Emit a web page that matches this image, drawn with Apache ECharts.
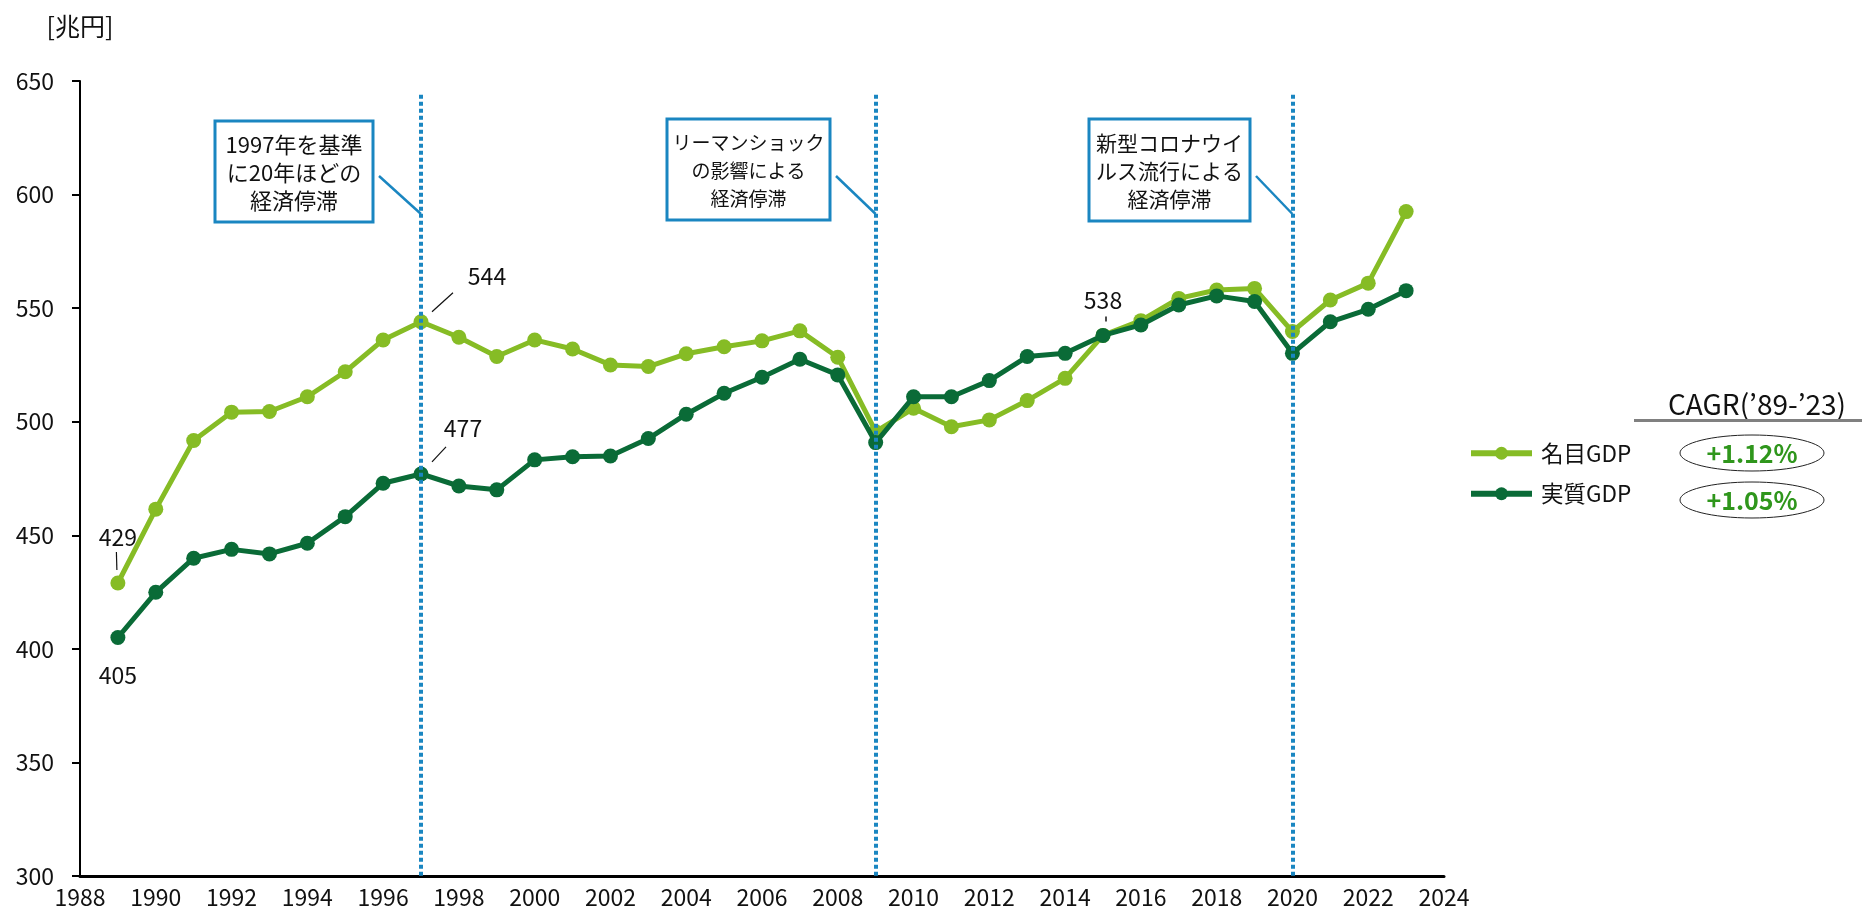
<!DOCTYPE html>
<html>
<head>
<meta charset="utf-8">
<script src="https://cdn.jsdelivr.net/npm/echarts@6/dist/echarts.min.js"></script>
<style>
html,body{margin:0;padding:0;background:#fff}
#chart{width:1862px;height:913px}
</style>
</head>
<body>
<div id="chart"></div>
<script>
// 年次
var years = [1989,1990,1991,1992,1993,1994,1995,1996,1997,1998,1999,2000,2001,2002,2003,2004,2005,2006,
  2007,2008,2009,2010,2011,2012,2013,2014,2015,2016,2017,2018,2019,2020,2021,2022,2023];
// 名目GDP [兆円]
var nominalGdp = [429,461.5,491.7,504.2,504.5,511,522,536,544,537.2,528.7,536,532,525,524.3,529.9,533,535.6,
  540,528.4,495.6,505.9,497.8,500.8,509.3,519.1,538,544.5,554.3,558,558.7,539.7,553.6,561,592.5];
// 実質GDP [兆円]
var realGdp = [405,424.9,439.9,443.8,441.8,446.5,458.2,472.9,477,471.7,470,483.2,484.6,484.9,492.6,503.3,512.5,519.6,
  527.5,520.6,490.8,511,511,518.1,528.7,530.1,538,542.6,551.4,555.4,552.9,530.1,544,549.5,557.7];
var seriesNames = ['名目GDP', '実質GDP'];
var cagrTexts = ['+1.12%', '+1.05%'];
var eventYears = [1997, 2009, 2020];
var eventTexts = ['1997年を基準\nに20年ほどの\n経済停滞', 'リーマンショック\nの影響による\n経済停滞', '新型コロナウイ\nルス流行による\n経済停滞'];
var yTicks = {min: 300, max: 650, interval: 50};
var xTicks = {min: 1988, max: 2024, interval: 2};

var FONT = '"Noto Sans CJK JP", "Noto Sans", sans-serif';
var LIGHT = '#86bc25';
var DARK = '#0a6b37';
var BLUE = '#1a86c1';

// 数値ラベルを付ける点
var labelled = {
  nominal: {1989: {position: 'top', distance: 27}, 1997: {position: 'top', distance: 5, offset: [66, -22]}, 2015: {position: 'top', distance: 16}},
  real: {1989: {position: 'bottom', distance: 19}, 1997: {position: 'top', distance: 5, offset: [42, -22]}}
};

function buildData(values, marks) {
  return years.map(function (y, i) {
    var item = {value: [y, values[i]]};
    if (marks[y]) {
      item.label = Object.assign({show: true, formatter: function (p) { return Math.round(p.value[1]); },
        color: '#111', fontSize: 23, fontFamily: FONT}, marks[y]);
    }
    return item;
  });
}

var myChart = echarts.init(document.getElementById('chart'));

var option = {
  animation: false,
  textStyle: {fontFamily: FONT},
  grid: {left: 80, right: 418, top: 81, bottom: 37},
  legend: {
    orient: 'vertical',
    left: 1463,
    top: 437,
    itemWidth: 61,
    itemHeight: 16,
    itemGap: 18,
    lineStyle: {width: 6},
    textStyle: {fontSize: 22.5, color: '#111', fontFamily: FONT, padding: [0, 0, 0, 4]},
    data: seriesNames
  },
  xAxis: {
    type: 'value',
    min: xTicks.min,
    max: xTicks.max,
    interval: xTicks.interval,
    splitLine: {show: false},
    axisTick: {show: false},
    axisLine: {lineStyle: {color: '#000', width: 3}},
    axisLabel: {color: '#111', fontSize: 23, margin: 10, formatter: function (v) { return String(v); }}
  },
  yAxis: {
    type: 'value',
    min: yTicks.min,
    max: yTicks.max,
    interval: yTicks.interval,
    name: '[兆円]',
    nameLocation: 'end',
    nameGap: 42,
    nameTextStyle: {color: '#111', fontSize: 25, align: 'center'},
    splitLine: {show: false},
    axisLine: {show: true, lineStyle: {color: '#000', width: 2}},
    axisTick: {show: true, inside: false, length: 8, lineStyle: {color: '#000', width: 2}},
    axisLabel: {color: '#111', fontSize: 23, margin: 26}
  },
  series: [
    {
      name: seriesNames[0],
      type: 'line',
      data: buildData(nominalGdp, labelled.nominal),
      symbol: 'circle',
      symbolSize: 15,
      lineStyle: {color: LIGHT, width: 5},
      itemStyle: {color: LIGHT},
      z: 3,
      markLine: {
        silent: true,
        symbol: 'none',
        label: {show: false},
        lineStyle: {color: BLUE, width: 4, type: [4, 3]},
        data: eventYears.map(function (y) { return [{coord: [y, 644]}, {coord: [y, yTicks.min]}]; })
      }
    },
    {
      name: seriesNames[1],
      type: 'line',
      data: buildData(realGdp, labelled.real),
      symbol: 'circle',
      symbolSize: 15,
      lineStyle: {color: DARK, width: 5},
      itemStyle: {color: DARK},
      z: 4
    }
  ]
};

myChart.setOption(option);

// 注記の枠・引き出し線
var boxes = [
  {x: 215, y: 121, w: 158, h: 101, fs: 22},
  {x: 667, y: 119, w: 163, h: 101, fs: 19},
  {x: 1089, y: 119, w: 161, h: 102, fs: 21}
];
var graphics = [];
eventYears.forEach(function (y, i) {
  var b = boxes[i];
  var px = myChart.convertToPixel({gridIndex: 0}, [y, 600])[0];
  graphics.push({type: 'rect', shape: {x: b.x, y: b.y, width: b.w, height: b.h},
    style: {fill: '#fff', stroke: BLUE, lineWidth: 3}, z: 10});
  graphics.push({type: 'text', x: b.x + b.w / 2, y: b.y + b.h / 2 + 1,
    style: {text: eventTexts[i], fill: '#111', font: b.fs + 'px ' + FONT, align: 'center', verticalAlign: 'middle', lineHeight: 28}, z: 11});
  graphics.push({type: 'line', shape: {x1: b.x + b.w + 6, y1: 176, x2: px, y2: 214},
    style: {stroke: BLUE, lineWidth: 2.5}, z: 10});
});

// 数値ラベルの引き出し線
function pt(y, v) { return myChart.convertToPixel({gridIndex: 0}, [y, v]); }
var p;
p = pt(1989, nominalGdp[0]);
graphics.push({type: 'line', shape: {x1: p[0] - 1.5, y1: p[1] - 31, x2: p[0] - 1, y2: p[1] - 13}, style: {stroke: '#111', lineWidth: 1.2}});
p = pt(1997, nominalGdp[8]);
graphics.push({type: 'line', shape: {x1: p[0] + 11, y1: p[1] - 10, x2: p[0] + 32, y2: p[1] - 29}, style: {stroke: '#111', lineWidth: 1.2}});
p = pt(1997, realGdp[8]);
graphics.push({type: 'line', shape: {x1: p[0] + 11, y1: p[1] - 12, x2: p[0] + 25, y2: p[1] - 27}, style: {stroke: '#111', lineWidth: 1.2}});
p = pt(2015, nominalGdp[26]);
graphics.push({type: 'line', shape: {x1: p[0] + 3, y1: p[1] - 19, x2: p[0] + 3, y2: p[1] - 14}, style: {stroke: '#111', lineWidth: 1.5}});

// CAGR
graphics.push({type: 'text', x: 1757, y: 404, style: {text: 'CAGR(’89-’23)', fill: '#111', font: '28px ' + FONT, align: 'center', verticalAlign: 'middle'}});
graphics.push({type: 'rect', shape: {x: 1634, y: 419, width: 228, height: 3}, style: {fill: '#808080'}});
cagrTexts.forEach(function (t, i) {
  var cy = 453 + i * 47;
  graphics.push({type: 'ellipse', shape: {cx: 1752, cy: cy, rx: 72, ry: 18}, style: {fill: '#fff', stroke: '#222', lineWidth: 1}});
  graphics.push({type: 'text', x: 1752, y: cy, style: {text: t, fill: '#2f961c', font: 'bold 25px ' + FONT, align: 'center', verticalAlign: 'middle'}});
});

myChart.setOption({graphic: graphics});
</script>
</body>
</html>
